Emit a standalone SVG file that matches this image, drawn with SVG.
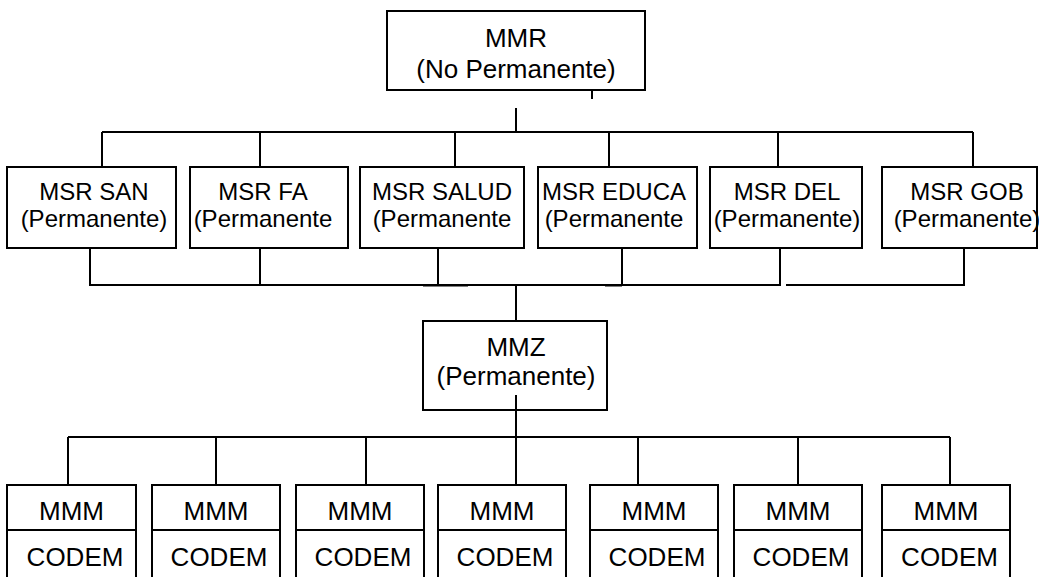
<svg xmlns="http://www.w3.org/2000/svg" width="1039" height="577" viewBox="0 0 1039 577">
<style>
.box{fill:#fff;stroke:#000;stroke-width:2}
.ln{fill:none;stroke:#000;stroke-width:2}
text{font-family:"Liberation Sans",Arial,sans-serif;fill:#000;text-anchor:middle}
.t26{font-size:26px}
.t24{font-size:24px}
</style>
<rect width="1039" height="577" fill="#fff"/>
<g id="connectors">
<path class="ln" d="M592,90 V99"/>
<path class="ln" d="M516,108 V132"/>
<path class="ln" d="M102,132 H973"/>
<path class="ln" d="M102,132 V177 H105"/>
<path class="ln" d="M260,132 V177 H257"/>
<path class="ln" d="M455,132 V167"/>
<path class="ln" d="M609,132 V177 H606"/>
<path class="ln" d="M778,132 V177 H775"/>
<path class="ln" d="M973,132 V177 H976"/>
<path class="ln" d="M90,248 V285 H780 V248"/>
<path class="ln" d="M260,248 V285"/>
<path class="ln" d="M438,248 V285"/>
<path class="ln" d="M622,248 V285"/>
<path class="ln" d="M786,285 H964 V248"/>
<path class="ln" d="M423,285.5 H468 M605,285.5 H622" stroke-width="2.5"/>
<path class="ln" d="M516,285 V321"/>
<path class="ln" d="M516,395 V437"/>
<path class="ln" d="M68,437 H950"/>
<path class="ln" d="M68,437 V485 M216,437 V485 M366,437 V485 M516,437 V485 M638,437 V485 M798,437 V485 M950,437 V485"/>
</g>
<g id="mmr">
<rect class="box" x="387" y="11" width="258" height="79"/>
<text class="t26" x="516" y="47">MMR</text>
<text class="t26" x="516" y="78">(No Permanente)</text>
</g>
<g id="msr-san">
<rect class="box" x="7" y="167" width="169" height="81"/>
<text class="t24" x="94" y="200">MSR SAN</text>
<text class="t24" x="94" y="227">(Permanente)</text>
</g>
<g id="msr-fa">
<rect class="box" x="190" y="167" width="158" height="81"/>
<text class="t24" x="263" y="200">MSR FA</text>
<text class="t24" x="263" y="227">(Permanente</text>
</g>
<g id="msr-salud">
<rect class="box" x="360" y="167" width="164" height="81"/>
<text class="t24" x="442" y="200">MSR SALUD</text>
<text class="t24" x="442" y="227">(Permanente</text>
</g>
<g id="msr-educa">
<rect class="box" x="538" y="167" width="159" height="81"/>
<text class="t24" x="614" y="200">MSR EDUCA</text>
<text class="t24" x="614" y="227">(Permanente</text>
</g>
<g id="msr-del">
<rect class="box" x="710" y="167" width="152" height="81"/>
<text class="t24" x="787" y="200">MSR DEL</text>
<text class="t24" x="787" y="227">(Permanente)</text>
</g>
<g id="msr-gob">
<rect class="box" x="882" y="167" width="155" height="81"/>
<text class="t24" x="967" y="200">MSR GOB</text>
<text class="t24" x="967" y="227">(Permanente)</text>
</g>
<g id="mmz">
<rect class="box" x="423" y="321" width="184" height="89"/>
<text class="t26" x="516" y="356">MMZ</text>
<text class="t26" x="516" y="385">(Permanente)</text>
<path class="ln" d="M516,395 V410"/>
</g>
<g id="mmm1"><path class="box" d="M7,580 V485 H136 V580 M7,530 H136"/><text class="t26" x="71.5" y="520">MMM</text><text class="t26" x="75" y="566">CODEM</text></g>
<g id="mmm2"><path class="box" d="M152,580 V485 H280 V580 M152,530 H280"/><text class="t26" x="216" y="520">MMM</text><text class="t26" x="219" y="566">CODEM</text></g>
<g id="mmm3"><path class="box" d="M296,580 V485 H424 V580 M296,530 H424"/><text class="t26" x="360" y="520">MMM</text><text class="t26" x="363" y="566">CODEM</text></g>
<g id="mmm4"><path class="box" d="M438,580 V485 H566 V580 M438,530 H566"/><text class="t26" x="502" y="520">MMM</text><text class="t26" x="505" y="566">CODEM</text></g>
<g id="mmm5"><path class="box" d="M590,580 V485 H718 V580 M590,530 H718"/><text class="t26" x="654" y="520">MMM</text><text class="t26" x="657" y="566">CODEM</text></g>
<g id="mmm6"><path class="box" d="M734,580 V485 H862 V580 M734,530 H862"/><text class="t26" x="798" y="520">MMM</text><text class="t26" x="801" y="566">CODEM</text></g>
<g id="mmm7"><path class="box" d="M882,580 V485 H1010 V580 M882,530 H1010"/><text class="t26" x="946" y="520">MMM</text><text class="t26" x="949.5" y="566">CODEM</text></g>
</svg>
